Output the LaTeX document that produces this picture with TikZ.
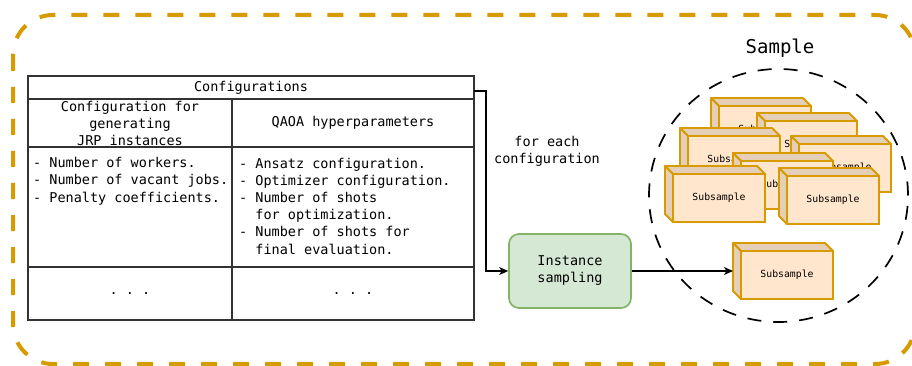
\documentclass[tikz,border=0pt]{standalone}
\usepackage{fontspec}
\setmonofont{DejaVu Sans Mono}
\usetikzlibrary{arrows.meta,shapes.geometric,calc}

\definecolor{frameorange}{HTML}{D79B00}
\definecolor{boxfill}{HTML}{FFE6CC}
\definecolor{boxside}{HTML}{E6CFB8}
\definecolor{greenfill}{HTML}{D5E8D4}
\definecolor{greenline}{HTML}{82B366}
\definecolor{gridline}{HTML}{333333}

\tikzset{
  txt/.style={font=\ttfamily\fontsize{13.5}{17}\selectfont},
  cell/.style={draw=gridline, line width=1.3pt, inner sep=0pt, outer sep=0pt,
    align=center, txt},
  conn/.style={draw=black, line width=1.2pt,
    -{Stealth[length=9pt,width=8pt,inset=2.5pt]}},
  subbox/.style={draw=frameorange, fill=boxfill, line width=1.8pt,
    minimum width=92pt, minimum height=48pt, inner sep=0pt, outer sep=0pt,
    font=\ttfamily\fontsize{9.8}{12}\selectfont},
  subside/.style={draw=frameorange, fill=boxside, line width=1.8pt, line join=round},
}

% a 3D "box" with its top and left faces; #2,#3 = outer top-left corner
\newcommand\subsamplebox[3]{%
  \node[subbox] (#1) at ({#2+54},{#3+32}) {Subsample};
  \filldraw[subside] (#1.north west) -- ++(-8,-8)
    -- ($(#1.north east)+(-8,-8)$) -- (#1.north east) -- cycle;
  \filldraw[subside] (#1.north west) -- ++(-8,-8)
    -- ($(#1.south west)+(-8,-8)$) -- (#1.south west) -- cycle;
}

\begin{document}
\begin{tikzpicture}[x=1pt,y=-1pt]
\useasboundingbox (0,0) rectangle (912,366);

% outer dashed frame
\draw[frameorange, line width=4pt, rounded corners=40pt,
  dash pattern=on 16pt off 16pt] (13,15) rectangle (915,364);

% configuration table
\node[cell, minimum width=446pt, minimum height=23pt] (tabhead) at (251,87.5) {Configurations};
\node[cell, minimum width=204pt, minimum height=48pt] (h1) at (130,123)
  {\fontsize{13.5}{16}\selectfont Configuration for\\generating\\JRP instances};
\node[cell, minimum width=242pt, minimum height=48pt] (h2) at (353,123) {QAOA hyperparameters};
\node[cell, minimum width=204pt, minimum height=120pt] (b1) at (130,207) {};
\node[cell, minimum width=242pt, minimum height=120pt] (b2) at (353,207) {};
\node[cell, minimum width=204pt, minimum height=53pt] (d1) at (130,293.5) {. . .};
\node[cell, minimum width=242pt, minimum height=53pt] (d2) at (353,293.5) {. . .};

\node[txt, anchor=west, align=left, inner sep=0pt,
  font=\ttfamily\fontsize{13.5}{17.5}\selectfont] (b1text) at (33,181)
  {- Number of workers.\\- Number of vacant jobs.\\- Penalty coefficients.};
\node[txt, anchor=west, align=left, inner sep=0pt,
  font=\ttfamily\fontsize{13.5}{17.2}\selectfont] (b2text) at (239,206)
  {- Ansatz configuration.\\- Optimizer configuration.\\- Number of shots\\%
   \phantom{- }for optimization.\\- Number of shots for\\\phantom{- }final evaluation.};

% instance sampling step
\node[txt, draw=greenline, fill=greenfill, line width=1.7pt, rounded corners=10pt,
  minimum width=122pt, minimum height=74pt, align=center] (inst) at (570,271)
  {Instance\\sampling};
\node[txt, align=center] (foreach) at (547,151) {for each\\configuration};

\draw[conn] ([yshift=-3.5pt]tabhead.east) -- ++(12,0) |- (inst.west);

% sample set
\node[draw=black, dashed, dash pattern=on 14pt off 12pt, line width=1.7pt,
  ellipse, minimum width=259pt, minimum height=253pt, inner sep=0pt] (sample) at (778.5,195.5) {};
\node[font=\ttfamily\fontsize{19}{22}\selectfont] (samplelabel) at (780,48) {Sample};

\subsamplebox{s1}{711}{98}
\subsamplebox{s2}{757}{113}
\subsamplebox{s3}{680}{128}
\subsamplebox{s4}{791}{136}
\subsamplebox{s5}{733}{153}
\subsamplebox{s6}{665}{166}
\subsamplebox{s7}{779}{168}
\subsamplebox{s8}{733}{243}

\draw[conn] (inst.east) -- ($(s8.west |- inst.east)+(-8,0)$);
\end{tikzpicture}
\end{document}
